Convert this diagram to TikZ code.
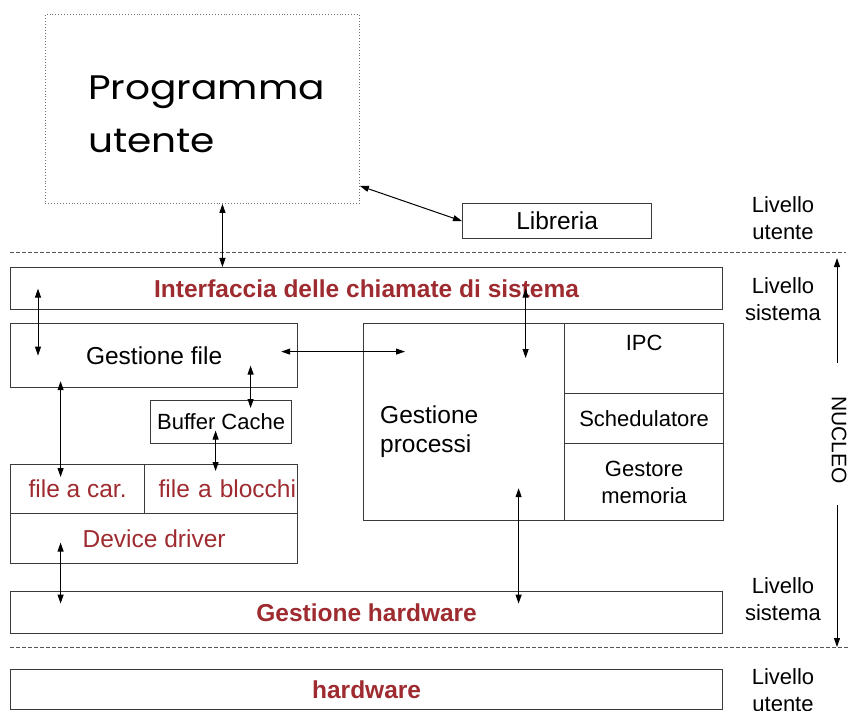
\documentclass[tikz,border=0pt]{standalone}
\usepackage{fontspec}
\setmainfont{Liberation Sans}
\newfontfamily\geofont[FakeStretch=1.15]{Poppins}
\usetikzlibrary{arrows.meta, positioning, calc}
\definecolor{ink}{HTML}{3A3A3A}
\definecolor{sysred}{HTML}{9E2B30}
\definecolor{sepgray}{HTML}{555555}
\definecolor{dotgray}{HTML}{707070}
\tikzset{
  box/.style={
    rectangle, draw=ink, line width=1.2pt, anchor=north west,
    inner sep=0pt, align=center, font=\fontsize{24.5}{29}\selectfont
  },
  smallbox/.style={box, font=\fontsize{22}{27}\selectfont},
  redbox/.style={box, text=sysred},
  boldbox/.style={box, text=sysred, font=\fontsize{24.5}{29}\selectfont\bfseries},
  arr/.style={{Triangle[length=9pt, width=6pt]}-{Triangle[length=9pt, width=6pt]}, line width=1pt},
  arrone/.style={-{Triangle[length=9pt, width=6pt]}, line width=1pt},
  sepline/.style={draw=sepgray, line width=0.8pt, dash pattern=on 4pt off 2pt},
  levellabel/.style={font=\fontsize{22}{26.4}\selectfont, align=center}
}
\begin{document}
\begin{tikzpicture}[x=1pt, y=-1pt]
\useasboundingbox (0,0) rectangle (848,711);

% ---------------- User level ----------------
\node[box, draw=dotgray, line width=0.9pt, dotted, minimum width=314pt, minimum height=189pt] (prog) at (45,14) {};
\node[anchor=base west, align=left, inner sep=0pt, font=\geofont\fontsize{34}{53}\selectfont] (progtxt) at (88,153) {Programma\\utente};
\node[box, minimum width=189pt, minimum height=35pt] (lib) at (462,203) {Libreria};

\draw[sepline] (10,252) -- (846,252);
\draw[sepline] (10,647) -- (848,647);

% ---------------- Kernel ----------------
\node[boldbox, minimum width=712pt, minimum height=42pt] (iface) at (10,267) {Interfaccia delle chiamate di sistema};
\node[box, minimum width=287pt, minimum height=64pt] (gfile) at (10,323) {Gestione file};
\node[smallbox, minimum width=141pt, minimum height=43pt] (buffer) at (150,400) {Buffer Cache};
\node[redbox, minimum width=134pt, minimum height=49pt] (char) at (10,464) {file a car.};
\node[redbox, minimum width=153pt, minimum height=49pt, text width=150pt, align=right] (blk) at (144,464) {file a blocchi};
\node[redbox, minimum width=287pt, minimum height=50pt] (driver) at (10,513) {Device driver};

\node[box, minimum width=201pt, minimum height=197pt] (procs) at (363,323) {};
\node[anchor=west, align=left, inner sep=0pt, font=\fontsize{24.5}{29}\selectfont] (procstxt) at (380,432) {Gestione\\processi};
\node[smallbox, minimum width=159pt, minimum height=70pt, text depth=32pt] (ipc) at (564,323) {IPC};
\node[smallbox, minimum width=159pt, minimum height=50pt] (sched) at (564,393) {Schedulatore};
\node[smallbox, minimum width=159pt, minimum height=77pt] (mem) at (564,443) {Gestore\\memoria};

\node[boldbox, minimum width=712pt, minimum height=42pt] (ghw) at (10,591) {Gestione hardware};
\node[boldbox, minimum width=712pt, minimum height=40pt] (hw) at (10,669) {hardware};

% ---------------- Level labels ----------------
\node[levellabel] (lvlA) at (783,218) {Livello\\utente};
\node[levellabel] (lvlB) at (783,299) {Livello\\sistema};
\node[levellabel] (lvlC) at (783,599) {Livello\\sistema};
\node[levellabel] (lvlD) at (783,690) {Livello\\utente};

\node[rotate=-90, inner sep=0pt, font=\fontsize{21}{25}\selectfont] (nucleo) at (839,440) {NUCLEO};
\coordinate (nucTop) at (837,258);
\coordinate (nucBot) at (837,647);
\draw[arrone] ([xshift=-2pt, yshift=33pt]nucleo.west) -- (nucTop);
\draw[arrone] ([xshift=-2pt, yshift=-21pt]nucleo.east) -- (nucBot);

% ---------------- Connectors ----------------
\draw[arr] ([xshift=20pt]prog.south) -- ([xshift=20pt]prog.south |- iface.north);
\draw[arr] ([yshift=18pt]prog.south east) -- (lib.west);
\draw[arr] ([xshift=28pt]iface.west) -- ([xshift=28pt]gfile.west);
\draw[arr] ([xshift=-17pt, yshift=4pt]gfile.east) -- ([xshift=42pt, yshift=4pt]procs.west |- gfile.east);
\draw[arr] ([xshift=61.5pt]procs.north |- iface.center) -- ([xshift=61.5pt, yshift=-35pt]procs.north);
\draw[arr] ([xshift=29.5pt, yshift=-10pt]buffer.north |- gfile.center) -- ([xshift=29.5pt, yshift=-8pt]buffer.north);
\draw[arr] ([xshift=-5.5pt, yshift=-8.5pt]buffer.center) -- ([xshift=-5.5pt, yshift=-7pt]blk.north);
\draw[arr] ([xshift=-17pt, yshift=7pt]char.north |- gfile.south) -- ([xshift=-17pt, yshift=-13pt]char.north);
\draw[arr] ([xshift=-93.5pt, yshift=-4pt]driver.center) -- ([xshift=-93.5pt, yshift=9pt]driver.center |- ghw.center);
\draw[arr] ([xshift=54.5pt, yshift=33pt]procs.south) -- ([xshift=54.5pt, yshift=9pt]procs.south |- ghw.center);

\end{tikzpicture}
\end{document}
